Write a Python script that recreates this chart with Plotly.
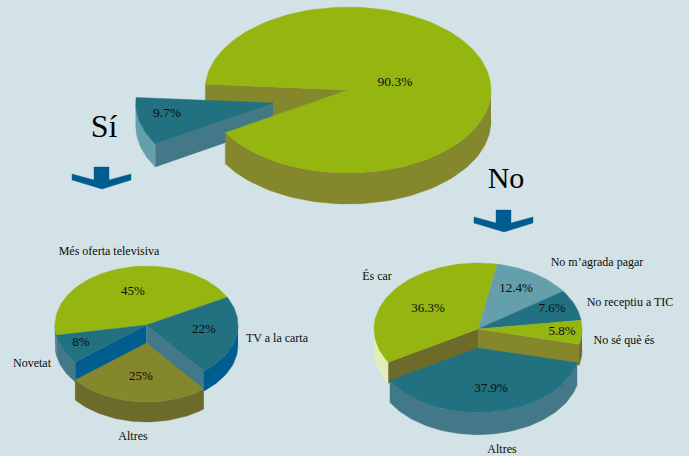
import math
import plotly.graph_objects as go

# Survey shares, in percent
main_values = [90.3, 9.7]
main_labels = ["No", "Sí"]
yes_values = [45, 22, 25, 8]
yes_labels = ["Més oferta televisiva", "TV a la carta", "Altres", "Novetat"]
no_values = [12.4, 7.6, 5.8, 37.9, 36.3]
no_labels = ["No m’agrada pagar", "No receptiu a TIC", "No sé què és", "Altres", "És car"]

BG = "#d3e2e6"
GREEN = "#95b611"
TEAL = "#227180"
OLIVE = "#84872c"
DARK_OLIVE = "#6c6b29"
SLATE = "#437888"
PALE_TEAL = "#659fac"
BLUE = "#005d8f"
PALE = "#e4eebb"
INK = "#0a0d08"
SERIF = "Liberation Serif"

fig = go.Figure()


def polygon(points, color):
    fig.add_trace(go.Scatter(
        x=[p[0] for p in points], y=[p[1] for p in points],
        mode="lines", fill="toself", fillcolor=color,
        line=dict(color=color, width=0.4),
        hoverinfo="skip", showlegend=False,
    ))


def ellipse_point(c, rx, ry, t):
    return (c[0] + rx * math.cos(math.radians(t)), c[1] + ry * math.sin(math.radians(t)))


def arc(c, rx, ry, a, b):
    n = max(2, int(abs(b - a) / 2) + 1)
    return [ellipse_point(c, rx, ry, a + (b - a) * i / (n - 1)) for i in range(n)]


def slice_angles(values, start):
    out, t = [], start
    for v in values:
        out.append((t, t + v * 3.6))
        t += v * 3.6
    return out


def draw_top(c, rx, ry, a, b, color):
    polygon([c] + arc(c, rx, ry, a, b) + [c], color)


def draw_rim(c, rx, ry, depth, a, b, color):
    # Only the front half of the cylinder faces the viewer
    for lo, hi in ((0, 180), (360, 540)):
        s, e = max(a, lo), min(b, hi)
        if e > s:
            top = arc(c, rx, ry, s, e)
            polygon(top + [(x, y + depth) for x, y in reversed(top)], color)


def draw_cut(c, rx, ry, depth, t, color):
    p = ellipse_point(c, rx, ry, t)
    polygon([c, p, (p[0], p[1] + depth), (c[0], c[1] + depth)], color)


def draw_pie(values, start, center, rx, ry, depth, styles, offsets, wedge_under_top=False):
    """styles: (top, rim, start-cut, end-cut) per slice;
    offsets: slice index -> (dx, dy, radius scale, depth)."""
    angles = slice_angles(values, start)
    main = [i for i in range(len(values)) if i not in offsets]

    def draw_offset():
        for i, (dx, dy, scale, d) in offsets.items():
            c = (center[0] + dx, center[1] + dy)
            a, b = angles[i]
            top, rim, cut_a, cut_b = styles[i]
            if cut_a:
                draw_cut(c, rx * scale, ry * scale, d, a, cut_a)
            if cut_b:
                draw_cut(c, rx * scale, ry * scale, d, b, cut_b)
            draw_rim(c, rx * scale, ry * scale, d, a, b, rim)
            draw_top(c, rx * scale, ry * scale, a, b, top)

    for i in main:
        a, b = angles[i]
        _, _, cut_a, cut_b = styles[i]
        if cut_a:
            draw_cut(center, rx, ry, depth, a, cut_a)
        if cut_b:
            draw_cut(center, rx, ry, depth, b, cut_b)
    if wedge_under_top:
        draw_offset()
    for i in main:
        a, b = angles[i]
        draw_rim(center, rx, ry, depth, a, b, styles[i][1])
    for i in main:
        a, b = angles[i]
        draw_top(center, rx, ry, a, b, styles[i][0])
    if not wedge_under_top:
        draw_offset()


# Overall question
draw_pie(main_values, 184, (348, 90), 143, 83, 31,
         [(GREEN, OLIVE, OLIVE, None), (TEAL, PALE_TEAL, SLATE, None)],
         {1: (-75, 13, 0.96, 23)}, wedge_under_top=True)

# Follow-up for the "Sí" answers
draw_pie(yes_values, 170, (146.5, 325), 91.5, 59, 20,
         [(GREEN, SLATE, None, None), (TEAL, BLUE, None, SLATE),
          (OLIVE, DARK_OLIVE, None, None), (TEAL, SLATE, BLUE, None)],
         {2: (0, 18, 1.0, 20)})

# Follow-up for the "No" answers
draw_pie(no_values, 280.4, (478, 329), 104, 66, 21,
         [(PALE_TEAL, PALE_TEAL, None, None), (TEAL, TEAL, None, None),
          (GREEN, DARK_OLIVE, None, OLIVE), (TEAL, SLATE, None, None),
          (GREEN, PALE, DARK_OLIVE, None)],
         {3: (0, 19, 0.98, 22)})


def arrow(cx, top):
    pts = [(-8, 0), (7, 0), (7, 13), (29, 7), (29, 13), (0, 22), (-30, 13), (-30, 7), (-8, 13), (-8, 0)]
    polygon([(cx + x, top + y) for x, y in pts], BLUE)


arrow(102, 167)
arrow(504, 210)


def label(x, y, text, size=12, color=INK):
    fig.add_trace(go.Scatter(
        x=[x], y=[y], text=[text], mode="text", textposition="middle center",
        textfont=dict(family=SERIF, size=size, color=color),
        hoverinfo="skip", showlegend=False,
    ))


def pct(v):
    return f"{v:g}%"


for (x, y), v in zip([(395, 83), (167, 114)], main_values):
    label(x, y, pct(v), 13.5)
for (x, y), v in zip([(133, 292), (204, 330), (141, 377), (81, 343)], yes_values):
    label(x, y, pct(v), 13)
for (x, y), v in zip([(516, 289), (552, 309), (562, 332), (491, 389), (428, 309)], no_values):
    label(x, y, pct(v), 13)

for (x, y), t in zip([(109, 252), (277, 339), (133, 437), (32, 364)], yes_labels):
    label(x, y, t, 12)
for (x, y), t in zip([(597, 263), (630, 303), (624, 341), (502, 450), (377, 277)], no_labels):
    label(x, y, t, 12)

label(104, 129, main_labels[1], 32, "#000000")
label(506, 180, main_labels[0], 30, "#000000")

fig.update_layout(
    width=689, height=456, margin=dict(l=0, r=0, t=0, b=0),
    paper_bgcolor=BG, plot_bgcolor=BG, showlegend=False,
    xaxis=dict(range=[0, 689], visible=False, fixedrange=True),
    yaxis=dict(range=[456, 0], visible=False, fixedrange=True),
)
fig.write_html("out.html", config={"displayModeBar": False})
